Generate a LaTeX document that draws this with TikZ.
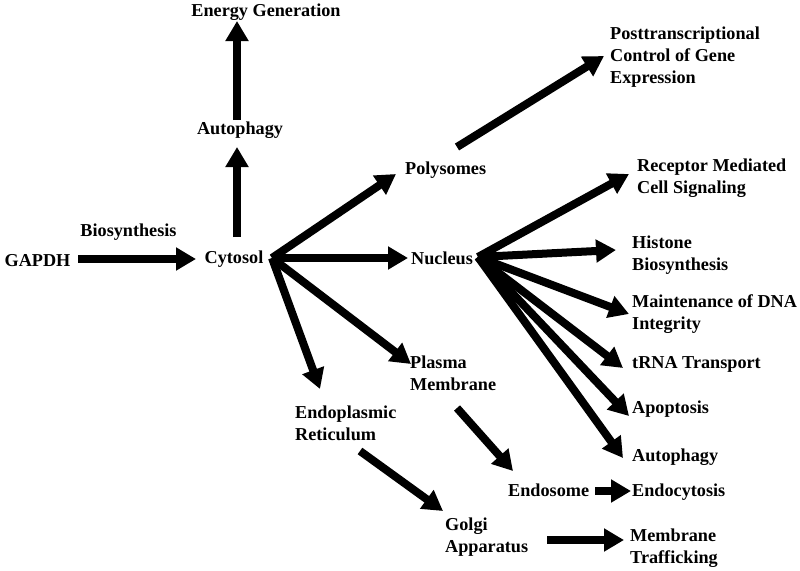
\documentclass[tikz,border=0pt]{standalone}
\usepackage{fontspec}
\setmainfont{Liberation Serif}
\usetikzlibrary{arrows.meta}
\tikzset{
  lbl/.style={font=\fontsize{18.2}{22}\selectfont\bfseries, inner sep=0pt, align=left},
  arr/.style={line width=8pt, -{Triangle[length=20pt,width=22pt]}},
}
\begin{document}
\begin{tikzpicture}[x=1pt,y=-1pt]
\useasboundingbox (0,0) rectangle (800,570);
% text nodes
\node[lbl] (gapdh) at (37.5,261) {GAPDH};
\node[lbl] (bio) at (128.5,232) {Biosynthesis};
\node[lbl] (cyto) at (234,259) {Cytosol};
\node[lbl] (auto1) at (240,130) {Autophagy};
\node[lbl] (energy) at (266,12) {Energy Generation};
\node[lbl, anchor=west] (poly) at (405,170) {Polysomes};
\node[lbl, anchor=west] (nuc) at (411,258) {Nucleus};
\node[lbl, anchor=west] (pm) at (410,373) {Plasma\\Membrane};
\node[lbl, anchor=west] (er) at (295,423) {Endoplasmic\\Reticulum};
\node[lbl, anchor=west] (golgi) at (445,537) {Golgi\\Apparatus};
\node[lbl, anchor=west] (mt) at (630,548) {Membrane\\Trafficking};
\node[lbl, anchor=west] (endo) at (508,490) {Endosome};
\node[lbl, anchor=west] (endoc) at (632,492) {Endocytosis};
\node[lbl, anchor=west] (ptc) at (610,57) {Posttranscriptional\\Control of Gene\\Expression};
\node[lbl, anchor=west] (rmc) at (637,178) {Receptor Mediated\\Cell Signaling};
\node[lbl, anchor=west] (hist) at (632,255) {Histone\\Biosynthesis};
\node[lbl, anchor=west] (dna) at (632,314) {Maintenance of DNA\\Integrity};
\node[lbl, anchor=west] (trna) at (632,364) {tRNA Transport};
\node[lbl, anchor=west] (apo) at (632,409) {Apoptosis};
\node[lbl, anchor=west] (auto2) at (632,457) {Autophagy};
% connector points
\coordinate (cyhub) at (272,258);
\coordinate (nuhub) at (478,257);
\coordinate (gS) at (78,259);   \coordinate (gE) at (196,259);
\coordinate (a1S) at (237,237); \coordinate (a1E) at (237,147);
\coordinate (a2S) at (237,120); \coordinate (a2E) at (237,21);
\coordinate (polyE) at (396,174);
\coordinate (nucE) at (408,258);
\coordinate (pmE) at (411,364);
\coordinate (erE) at (320,389);
\coordinate (erS) at (360,451); \coordinate (golgiE) at (443,511);
\coordinate (gS2) at (547,540); \coordinate (mtE) at (624,540);
\coordinate (pmS) at (457,408); \coordinate (endoE) at (513,471);
\coordinate (enS) at (595,491); \coordinate (endocE) at (631,491);
\coordinate (polyS) at (457,147); \coordinate (ptcE) at (604,56);
\coordinate (rmcE) at (629,174);
\coordinate (histE) at (616,250);
\coordinate (dnaE) at (629,314);
\coordinate (trnaE) at (623,368);
\coordinate (apoE) at (629,416);
\coordinate (auto2E) at (623,458);
% connectors
\draw[arr] (gS) -- (gE);
\draw[arr] (a1S) -- (a1E);
\draw[arr] (a2S) -- (a2E);
\draw[arr] (cyhub) -- (polyE);
\draw[arr] (cyhub) -- (nucE);
\draw[arr] (cyhub) -- (pmE);
\draw[arr] (cyhub) -- (erE);
\draw[arr] (erS) -- (golgiE);
\draw[arr] (gS2) -- (mtE);
\draw[arr] (pmS) -- (endoE);
\draw[arr] (enS) -- (endocE);
\draw[arr] (polyS) -- (ptcE);
\draw[arr] (nuhub) -- (rmcE);
\draw[arr] (nuhub) -- (histE);
\draw[arr] (nuhub) -- (dnaE);
\draw[arr] (nuhub) -- (trnaE);
\draw[arr] (nuhub) -- (apoE);
\draw[arr] (nuhub) -- (auto2E);
\end{tikzpicture}
\end{document}
